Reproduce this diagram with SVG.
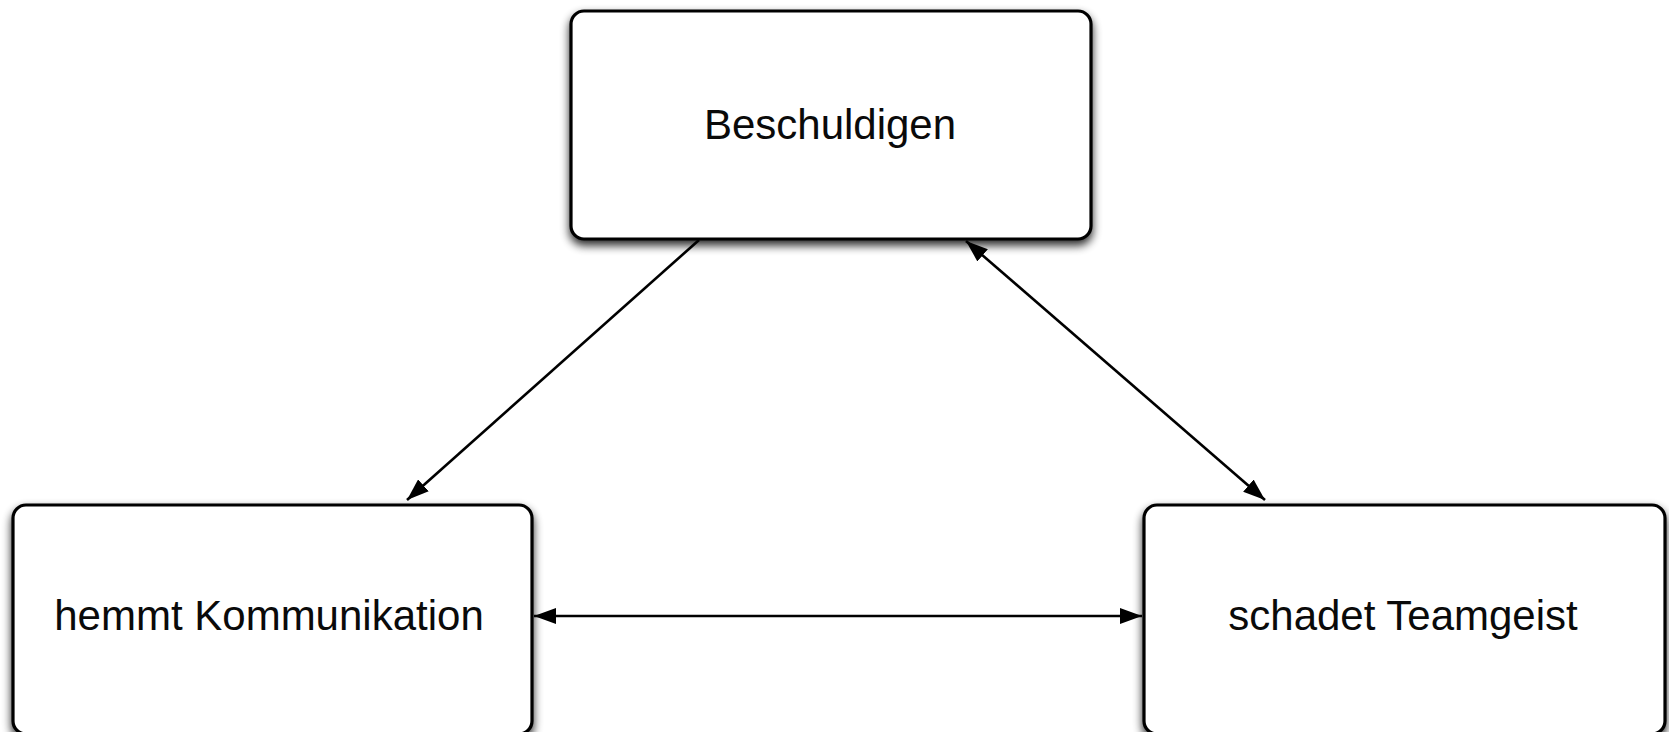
<svg xmlns="http://www.w3.org/2000/svg" width="1669" height="732" viewBox="0 0 1669 732">
  <style>
    .box { fill: #ffffff; stroke: #000000; stroke-width: 3.2; filter: url(#shadow); }
    .label { font-family: "Liberation Sans", Arial, sans-serif; font-size: 42px; fill: #0a0a0a; text-anchor: middle; }
    .edge { stroke: #000000; stroke-width: 2.6; fill: none; }
  </style>
  <defs>
    <filter id="shadow" x="-10%" y="-10%" width="120%" height="130%">
      <feGaussianBlur in="SourceAlpha" stdDeviation="5"/>
      <feOffset dx="0" dy="5" result="blur"/>
      <feComponentTransfer><feFuncA type="linear" slope="0.85"/></feComponentTransfer>
      <feMerge><feMergeNode/><feMergeNode in="SourceGraphic"/></feMerge>
    </filter>
    <marker id="head" viewBox="0 0 22 16" refX="22" refY="8" markerWidth="22" markerHeight="16" markerUnits="userSpaceOnUse" orient="auto-start-reverse">
      <path d="M0,0 L22,8 L0,16 Z" fill="#000000"/>
    </marker>
  </defs>

  <rect width="1669" height="732" fill="#ffffff"/>

  <g id="connectors">
    <line class="edge" x1="699" y1="240" x2="407" y2="500" marker-end="url(#head)"/>
    <line class="edge" x1="966" y1="241" x2="1265" y2="500" marker-start="url(#head)" marker-end="url(#head)"/>
    <line class="edge" x1="534" y1="616" x2="1142" y2="616" marker-start="url(#head)" marker-end="url(#head)"/>
  </g>

  <g id="node-beschuldigen">
    <rect class="box" x="571" y="11" width="520" height="228" rx="13" ry="13"/>
    <text class="label" x="830" y="139">Beschuldigen</text>
  </g>

  <g id="node-kommunikation">
    <rect class="box" x="13" y="505" width="519" height="229" rx="13" ry="13"/>
    <text class="label" x="269" y="630">hemmt Kommunikation</text>
  </g>

  <g id="node-teamgeist">
    <rect class="box" x="1144" y="505" width="521" height="229" rx="13" ry="13"/>
    <text class="label" x="1403" y="630">schadet Teamgeist</text>
  </g>
</svg>
